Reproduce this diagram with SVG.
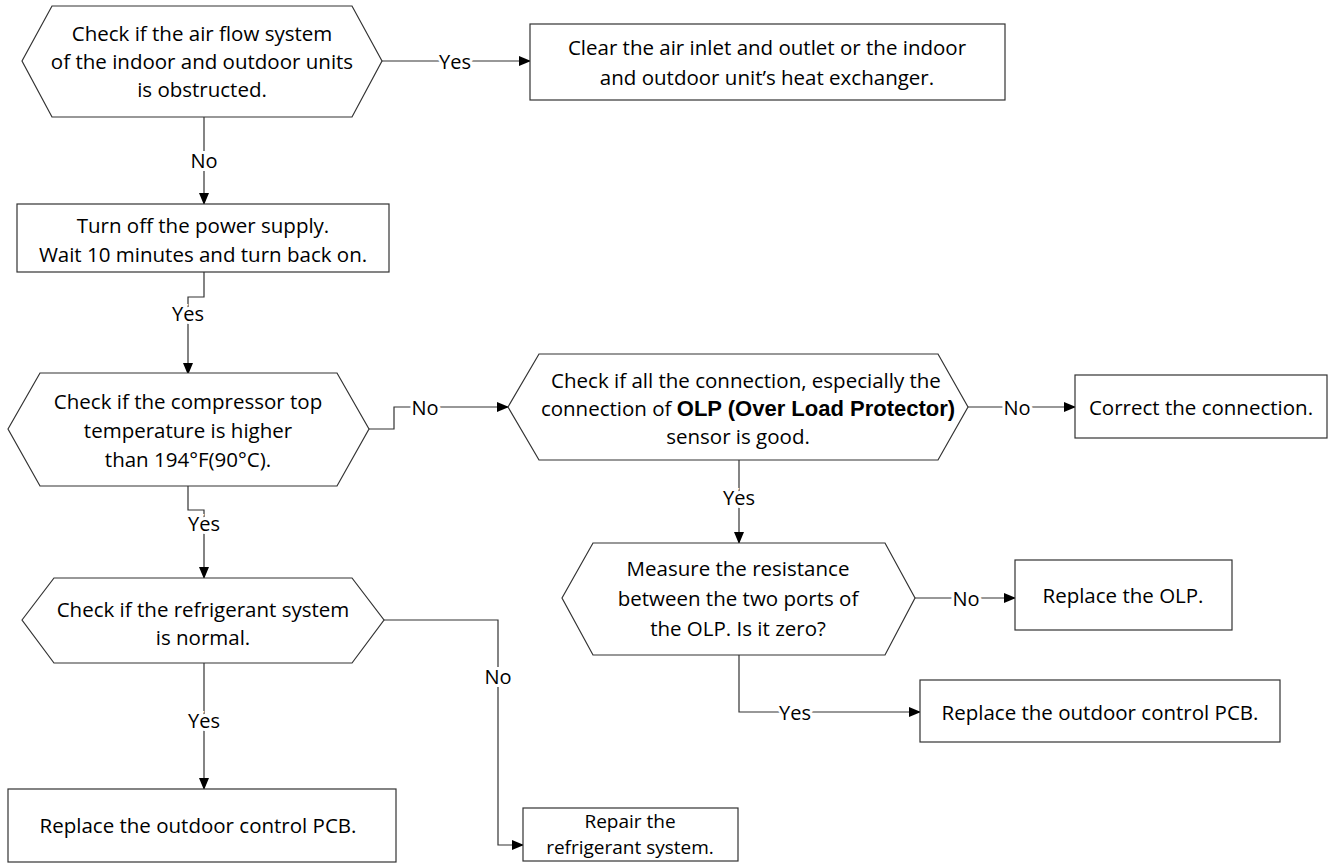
<svg xmlns="http://www.w3.org/2000/svg" width="1335" height="865" viewBox="0 0 1335 865">
<defs>
<marker id="arr" markerWidth="12" markerHeight="10" refX="11" refY="5" orient="auto" markerUnits="userSpaceOnUse">
<path d="M0,0 L12,5 L0,10 Z" fill="#000"/>
</marker>
<style>
.shape{fill:#fff;stroke:#333;stroke-width:1.2}
.t{font-family:"Open Sans","Liberation Sans",sans-serif;font-size:20.5px;fill:#000;text-anchor:middle;dominant-baseline:central}
.s{font-size:19px}
.b{font-family:"Liberation Sans",Arial,sans-serif;font-weight:bold;font-size:22px}
.c{fill:none;stroke:#333;stroke-width:1.2}
.lbl{font-family:"Open Sans","Liberation Sans",sans-serif;font-size:20px;fill:#000;text-anchor:middle;dominant-baseline:central;stroke:#fff;stroke-width:6;paint-order:stroke}
</style>
</defs>
<rect width="1335" height="865" fill="#fff"/>

<g id="connectors">
<polyline class="c" points="382,61 530,61" marker-end="url(#arr)"/>
<polyline class="c" points="204,117 204,204" marker-end="url(#arr)"/>
<polyline class="c" points="204,272 204,297 188,297 188,374" marker-end="url(#arr)"/>
<polyline class="c" points="369,429 394,429 394,407 508,407" marker-end="url(#arr)"/>
<polyline class="c" points="968,407 1075,407" marker-end="url(#arr)"/>
<polyline class="c" points="739,460 739,543" marker-end="url(#arr)"/>
<polyline class="c" points="915,598 1015,598" marker-end="url(#arr)"/>
<polyline class="c" points="739,655 739,712 920,712" marker-end="url(#arr)"/>
<polyline class="c" points="188,486 188,510 204,510 204,578" marker-end="url(#arr)"/>
<polyline class="c" points="204,663 204,789" marker-end="url(#arr)"/>
<polyline class="c" points="384,620 498,620 498,845 523,845" marker-end="url(#arr)"/>
<text class="lbl" x="455" y="61">Yes</text>
<text class="lbl" x="204" y="160">No</text>
<text class="lbl" x="188" y="313">Yes</text>
<text class="lbl" x="425" y="407">No</text>
<text class="lbl" x="1017" y="407">No</text>
<text class="lbl" x="739" y="497">Yes</text>
<text class="lbl" x="966" y="598">No</text>
<text class="lbl" x="795" y="712">Yes</text>
<text class="lbl" x="204" y="523">Yes</text>
<text class="lbl" x="204" y="720">Yes</text>
<text class="lbl" x="498" y="676">No</text>
</g>

<g id="n1">
<polygon class="shape" points="22,61 52,6 352,6 382,61 352,117 52,117"/>
<text class="t" x="202" y="33">Check if the air flow system</text>
<text class="t" x="202" y="61">of the indoor and outdoor units</text>
<text class="t" x="202" y="89">is obstructed.</text>
</g>

<g id="n2">
<rect class="shape" x="530" y="24" width="475" height="76"/>
<text class="t" x="767" y="47">Clear the air inlet and outlet or the indoor</text>
<text class="t" x="767" y="77">and outdoor unit’s heat exchanger.</text>
</g>

<g id="n3">
<rect class="shape" x="17" y="204" width="372" height="68"/>
<text class="t" x="203" y="225">Turn off the power supply.</text>
<text class="t" x="203" y="254">Wait 10 minutes and turn back on.</text>
</g>

<g id="n4">
<polygon class="shape" points="8,429 40,373 337,373 369,429 337,486 40,486"/>
<text class="t" x="188" y="401">Check if the compressor top</text>
<text class="t" x="188" y="430">temperature is higher</text>
<text class="t" x="188" y="459">than 194°F(90°C).</text>
</g>

<g id="n5">
<polygon class="shape" points="508,407 539,354 938,354 968,407 938,460 539,460"/>
<text class="t" x="746" y="380">Check if all the connection, especially the</text>
<text class="t" x="748" y="408">connection of <tspan class="b">OLP (Over Load Protector)</tspan></text>
<text class="t" x="738" y="436">sensor is good.</text>
</g>

<g id="n6">
<rect class="shape" x="1075" y="375" width="252" height="63"/>
<text class="t" x="1201" y="407">Correct the connection.</text>
</g>

<g id="n7">
<polygon class="shape" points="562,598 593,543 885,543 915,598 885,655 593,655"/>
<text class="t" x="738" y="568">Measure the resistance</text>
<text class="t" x="738" y="598">between the two ports of</text>
<text class="t" x="738" y="628">the OLP. Is it zero?</text>
</g>

<g id="n8">
<rect class="shape" x="1015" y="560" width="217" height="70"/>
<text class="t" x="1123" y="595">Replace the OLP.</text>
</g>

<g id="n9">
<rect class="shape" x="920" y="680" width="360" height="62"/>
<text class="t" x="1100" y="712">Replace the outdoor control PCB.</text>
</g>

<g id="n10">
<polygon class="shape" points="22,620 54,578 352,578 384,620 352,663 54,663"/>
<text class="t" x="203" y="609">Check if the refrigerant system</text>
<text class="t" x="203" y="637">is normal.</text>
</g>

<g id="n11">
<rect class="shape" x="8" y="789" width="388" height="73"/>
<text class="t" x="198" y="825">Replace the outdoor control PCB.</text>
</g>

<g id="n12">
<rect class="shape" x="523" y="808" width="215" height="53"/>
<text class="t s" x="630" y="821">Repair the</text>
<text class="t s" x="630" y="847">refrigerant system.</text>
</g>
</svg>
